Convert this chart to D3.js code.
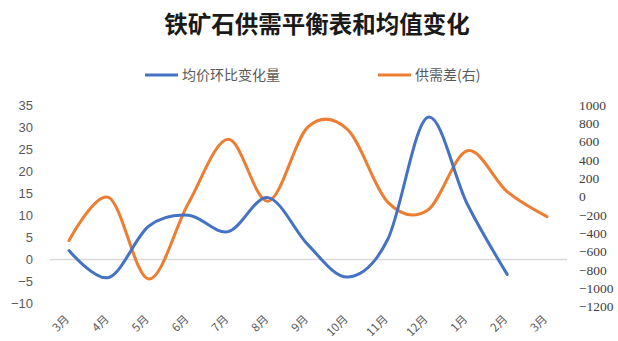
<!DOCTYPE html>
<html>
<head>
<meta charset="utf-8">
<script src="https://cdn.jsdelivr.net/npm/d3@7"></script>
<style>
  body { margin: 0; background: #fff; }
  svg { display: block; }
</style>
</head>
<body>
<script>
// 月份与两组序列
var months = ["3月", "4月", "5月", "6月", "7月", "8月", "9月", "10月", "11月", "12月", "1月", "2月", "3月"];
var priceChange = [2, -4.1, 7.5, 10, 6.3, 14, 3.3, -4, 4.5, 32.2, 12.5, -3.4, null];
var supplyGap = [-480, -10, -900, -70, 625, -50, 760, 730, -60, -150, 500, 54, -218];
var leftTicks = [-10, -5, 0, 5, 10, 15, 20, 25, 30, 35];
var rightTicks = [-1200, -1000, -800, -600, -400, -200, 0, 200, 400, 600, 800, 1000];

var width = 618,
    height = 341;

var svg = d3.select("body")
    .append("svg")
    .attr("width", width)
    .attr("height", height);

var x = d3.scalePoint()
    .domain(d3.range(months.length))
    .range([69, 547]);

var yLeft = d3.scaleLinear()
    .domain([-10, 35])
    .range([303.5, 105]);

var yRight = d3.scaleLinear()
    .domain([-1200, 1000])
    .range([306.5, 105]);

// title
svg.append("text")
    .attr("x", 317)
    .attr("y", 33)
    .attr("text-anchor", "middle")
    .style("font-family", "'Noto Sans CJK SC'")
    .style("font-weight", "bold")
    .style("font-size", "23.5px")
    .style("fill", "#1a1a1a")
    .text("铁矿石供需平衡表和均值变化");

// legend
var legendItems = [
    { name: "均价环比变化量", color: "#4472C4", x: 145 },
    { name: "供需差(右)", color: "#ED7D31", x: 378 }
];
var legend = svg.append("g");
legendItems.forEach(function (d) {
    legend.append("line")
        .attr("x1", d.x).attr("x2", d.x + 33)
        .attr("y1", 75).attr("y2", 75)
        .attr("stroke", d.color)
        .attr("stroke-width", 3);
    legend.append("text")
        .attr("x", d.x + 37)
        .attr("y", 80)
        .style("font-family", "'Noto Sans CJK SC'")
        .style("font-size", "14px")
        .style("fill", "#595959")
        .text(d.name);
});

// zero line
svg.append("line")
    .attr("x1", 50).attr("x2", 567)
    .attr("y1", yLeft(0)).attr("y2", yLeft(0))
    .attr("stroke", "#d9d9d9")
    .attr("stroke-width", 1.5);

// left axis
var axLeft = svg.append("g")
    .attr("transform", "translate(33,0)")
    .call(d3.axisLeft(yLeft).tickValues(leftTicks).tickSize(0).tickPadding(0));
axLeft.select(".domain").remove();
axLeft.selectAll("text")
    .style("font-family", "'Liberation Sans', Arial")
    .style("font-size", "13px")
    .style("fill", "#595959");

// right axis
var axRight = svg.append("g")
    .attr("transform", "translate(579,0)")
    .call(d3.axisRight(yRight).tickValues(rightTicks).tickFormat(d3.format("d")).tickSize(0).tickPadding(0));
axRight.select(".domain").remove();
axRight.selectAll("text")
    .style("font-family", "'Liberation Serif', 'Times New Roman'")
    .style("font-size", "13.5px")
    .style("fill", "#404040");

// x labels
svg.append("g")
    .selectAll("text")
    .data(months)
    .enter()
    .append("text")
    .attr("transform", function (d, i) {
        return "translate(" + (x(i) - 2) + ",317) rotate(-45)";
    })
    .attr("text-anchor", "end")
    .attr("dy", "0.35em")
    .style("font-family", "'Noto Sans CJK SC'")
    .style("font-size", "11.5px")
    .style("fill", "#595959")
    .text(function (d) { return d; });

// lines
var lineLeft = d3.line()
    .defined(function (d) { return d != null; })
    .x(function (d, i) { return x(i); })
    .y(function (d) { return yLeft(d); })
    .curve(d3.curveCardinal.tension(0));

var lineRight = d3.line()
    .x(function (d, i) { return x(i); })
    .y(function (d) { return yRight(d); })
    .curve(d3.curveCardinal.tension(0));

svg.append("path")
    .datum(supplyGap)
    .attr("d", lineRight)
    .attr("fill", "none")
    .attr("stroke", "#ED7D31")
    .attr("stroke-width", 3)
    .attr("stroke-linecap", "round");

svg.append("path")
    .datum(priceChange)
    .attr("d", lineLeft)
    .attr("fill", "none")
    .attr("stroke", "#4472C4")
    .attr("stroke-width", 3)
    .attr("stroke-linecap", "round");
</script>
</body>
</html>
